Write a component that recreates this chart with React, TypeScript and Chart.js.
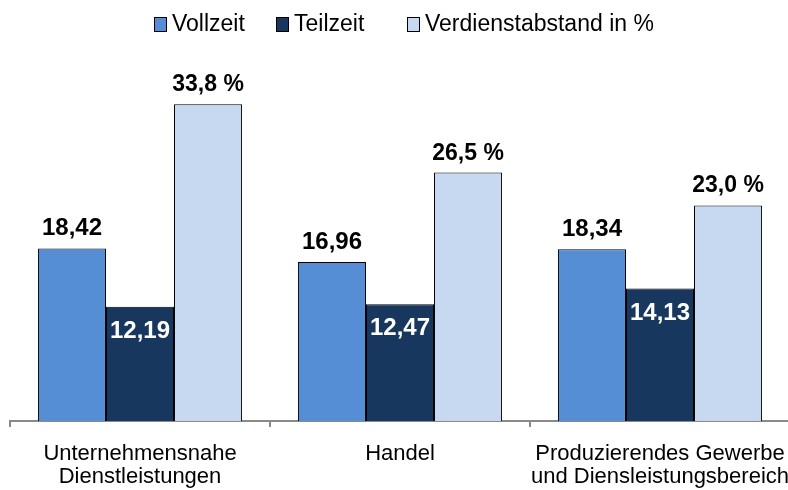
import { useEffect, useRef } from "react";
import { Chart, registerables } from "chart.js";

Chart.register(...registerables);

const FONT = '"Liberation Sans", Arial, sans-serif';

const categories: string[][] = [
  ["Unternehmensnahe", "Dienstleistungen"],
  ["Handel"],
  ["Produzierendes Gewerbe", "und Diensleistungsbereich"],
];
const seriesNames = ["Vollzeit", "Teilzeit", "Verdienstabstand in %"];
const vollzeit = [18.42, 16.96, 18.34];
const teilzeit = [12.19, 12.47, 14.13];
const verdienstabstand = [33.8, 26.5, 23.0];
const seriesColors = ["#558ED5", "#17375E", "#C6D9F1"];
const yMin = 0;
const yMax = 40;

// legend item left positions (layout)
const legendX = [154, 276, 407];

const fmtEuro = (v: number) => v.toFixed(2).replace(".", ",");
const fmtPct = (v: number) => v.toFixed(1).replace(".", ",") + " %";

const legendPlugin = {
  id: "customLegend",
  afterDraw(chart: any) {
    const ctx = chart.ctx;
    ctx.save();
    ctx.font = `23px ${FONT}`;
    ctx.textBaseline = "alphabetic";
    ctx.textAlign = "left";
    chart.data.datasets.forEach((ds: any, i: number) => {
      const x = legendX[i];
      ctx.fillStyle = ds.backgroundColor;
      ctx.fillRect(x, 17, 12, 14);
      ctx.strokeStyle = "#000";
      ctx.lineWidth = 1;
      ctx.strokeRect(x + 0.5, 17.5, 12, 14);
      ctx.fillStyle = "#000";
      ctx.fillText(ds.label, x + 18, 31);
    });
    ctx.restore();
  },
};

const valueLabelPlugin = {
  id: "valueLabels",
  afterDatasetsDraw(chart: any) {
    const ctx = chart.ctx;
    ctx.save();
    ctx.textAlign = "center";
    ctx.textBaseline = "alphabetic";
    chart.data.datasets.forEach((ds: any, di: number) => {
      const meta = chart.getDatasetMeta(di);
      meta.data.forEach((bar: any, i: number) => {
        const v = ds.data[i] as number;
        if (di === 0) {
          ctx.font = `bold 24px ${FONT}`;
          ctx.fillStyle = "#000";
          ctx.fillText(fmtEuro(v), bar.x, bar.y - 13);
        } else if (di === 1) {
          ctx.font = `bold 24px ${FONT}`;
          ctx.fillStyle = "#fff";
          ctx.fillText(fmtEuro(v), bar.x, bar.y + 31);
        } else {
          ctx.font = `bold 23px ${FONT}`;
          ctx.fillStyle = "#000";
          ctx.fillText(fmtPct(v), bar.x, bar.y - 13);
        }
      });
    });
    ctx.restore();
  },
};

export default function App() {
  const ref = useRef<HTMLCanvasElement | null>(null);

  useEffect(() => {
    if (!ref.current) return;
    const values = [vollzeit, teilzeit, verdienstabstand];
    const chart = new Chart(ref.current, {
      type: "bar",
      data: {
        labels: categories,
        datasets: seriesNames.map((name, i) => ({
          label: name,
          data: values[i],
          backgroundColor: seriesColors[i],
          borderColor: "#000",
          borderWidth: 1,
          categoryPercentage: 0.785,
          barPercentage: 1,
        })),
      },
      options: {
        responsive: false,
        animation: false,
        devicePixelRatio: 1,
        layout: { padding: { top: 46, left: 10, right: 10, bottom: 4 } },
        plugins: {
          legend: { display: false },
          tooltip: { enabled: false },
        },
        scales: {
          x: {
            afterFit: (scale: any) => {
              scale.paddingLeft = 0;
              scale.paddingRight = 0;
            },
            grid: {
              display: true,
              drawOnChartArea: false,
              drawTicks: true,
              tickLength: 6,
              color: "#8a8a8a",
              lineWidth: 2,
              offset: true,
            },
            border: { display: true, color: "#8a8a8a", width: 2 },
            ticks: {
              color: "#000",
              font: { family: FONT, size: 22, lineHeight: 1.02 },
              padding: 16,
              maxRotation: 0,
              autoSkip: false,
            },
          },
          y: { display: false, min: yMin, max: yMax },
        },
      },
      plugins: [legendPlugin, valueLabelPlugin],
    });
    return () => chart.destroy();
  }, []);

  return (
    <div
      style={{
        position: "fixed",
        left: 0,
        top: 0,
        width: 788,
        height: 490,
        overflow: "hidden",
        background: "#fff",
      }}
    >
      <canvas ref={ref} width={800} height={508} style={{ display: "block" }} />
    </div>
  );
}
